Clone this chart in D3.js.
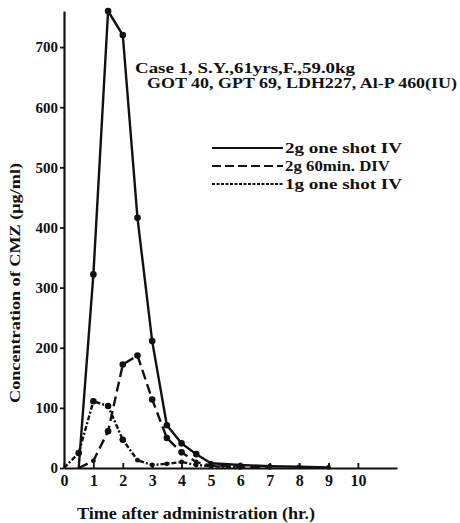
<!DOCTYPE html>
<html>
<head>
<meta charset="utf-8">
<script src="https://cdn.jsdelivr.net/npm/d3@7"></script>
<style>
  body { margin: 0; background: #fff; }
  text { font-family: "Liberation Serif", "DejaVu Serif", serif; font-weight: bold; fill: #111; }
</style>
</head>
<body>
<svg></svg>
<script>
const width = 460;
const height = 523;

// hours after administration and concentration (ug/ml)
const oneShot2gTime = [0.5, 1, 1.5, 2, 2.5, 3, 3.5, 4, 4.5, 5, 6, 7, 8, 9];
const oneShot2gConc = [0, 322, 760, 720, 416, 211, 71, 41, 23, 8, 5, 3, 2, 1];
const div2gTime = [0.5, 1, 1.5, 2, 2.5, 3, 3.5, 4, 4.5, 5, 6, 7];
const div2gConc = [0, 12, 61, 172, 187, 114, 50, 26, 10, 4, 2, 1];
const oneShot1gTime = [0, 0.5, 1, 1.5, 2, 2.5, 3, 3.5, 4, 4.5, 5, 6];
const oneShot1gConc = [0, 25, 111, 103, 47, 13, 5, 7, 10, 5, 3, 1];

const xTicks = [0, 1, 2, 3, 4, 5, 6, 7, 8, 9, 10];
const yTicks = [0, 100, 200, 300, 400, 500, 600, 700];

const series = [
  { name: '2g one shot IV', time: oneShot2gTime, conc: oneShot2gConc, dash: null },
  { name: '2g 60min. DIV', time: div2gTime, conc: div2gConc, dash: '10,5' },
  { name: '1g one shot IV', time: oneShot1gTime, conc: oneShot1gConc, dash: '5,2,2,2' }
];

let svg = d3.select('svg').attr('width', width).attr('height', height);

let xScale = d3.scaleLinear().domain([0, 11.33]).range([64, 397]);
let yScale = d3.scaleLinear().domain([0, 760]).range([468, 11]);

// axes
let xAxis = d3.axisBottom(xScale).tickValues(xTicks).tickSize(-5).tickSizeOuter(0).tickPadding(7);
let yAxis = d3.axisLeft(yScale).tickValues(yTicks).tickSize(4).tickSizeOuter(0).tickPadding(2);

let gx = svg.append('g').attr('transform', 'translate(0,468)').call(xAxis);
let gy = svg.append('g').attr('transform', 'translate(64,0)').call(yAxis);

[gx, gy].forEach(g => {
  g.select('.domain').attr('stroke', '#111').attr('stroke-width', 2.2);
  g.selectAll('.tick line').attr('stroke', '#111').attr('stroke-width', 1.8);
  g.selectAll('.tick text')
    .attr('font-family', '"Liberation Serif", serif')
    .attr('font-weight', 'bold')
    .attr('font-size', 16)
    .attr('fill', '#111');
});
gy.selectAll('.tick text').attr('font-size', 15);

// curves
let line = d3.line().x(d => xScale(d[0])).y(d => yScale(d[1]));

series.forEach(s => {
  let pts = s.time.map((t, i) => [t, s.conc[i]]);
  svg.append('path')
    .datum(pts)
    .attr('fill', 'none')
    .attr('stroke', '#111')
    .attr('stroke-width', 2.4)
    .attr('stroke-linejoin', 'round')
    .attr('stroke-dasharray', s.dash)
    .attr('d', line);
  svg.append('g').selectAll('circle')
    .data(pts.filter(p => p[1] > 0))
    .enter()
    .append('circle')
    .attr('cx', d => xScale(d[0]))
    .attr('cy', d => yScale(d[1]))
    .attr('r', d => d[1] > 15 ? 3.3 : 2.4)
    .attr('fill', '#111');
});

// case notes
svg.append('text').attr('x', 135).attr('y', 73).attr('font-size', 15)
  .attr('textLength', 220).attr('lengthAdjust', 'spacingAndGlyphs')
  .text('Case 1,  S.Y.,61yrs,F.,59.0kg');
svg.append('text').attr('x', 147).attr('y', 88).attr('font-size', 15)
  .attr('textLength', 310).attr('lengthAdjust', 'spacingAndGlyphs')
  .text('GOT 40, GPT 69, LDH227, Al-P 460(IU)');

// legend
series.forEach((s, i) => {
  let y = 148 + i * 18;
  svg.append('line')
    .attr('x1', 212).attr('x2', 283).attr('y1', y).attr('y2', y)
    .attr('stroke', '#111').attr('stroke-width', 2)
    .attr('stroke-dasharray', s.dash === '5,2,2,2' ? '3,1.5' : (s.dash ? '9,4' : null));
  svg.append('text').attr('x', 285).attr('y', y + 5).attr('font-size', 14.5)
    .attr('textLength', s.name === '2g 60min. DIV' ? 105 : 117)
    .attr('lengthAdjust', 'spacingAndGlyphs')
    .text(s.name);
});

// axis titles
svg.append('text')
  .attr('transform', 'translate(20,283) rotate(-90)')
  .attr('text-anchor', 'middle')
  .attr('font-size', 14.5)
  .attr('textLength', 240).attr('lengthAdjust', 'spacingAndGlyphs')
  .text('Concentration of CMZ (\u03bcg/ml)');

svg.append('text')
  .attr('x', 77).attr('y', 519)
  .attr('font-size', 16)
  .attr('textLength', 238).attr('lengthAdjust', 'spacingAndGlyphs')
  .text('Time after administration (hr.)');
</script>
</body>
</html>
